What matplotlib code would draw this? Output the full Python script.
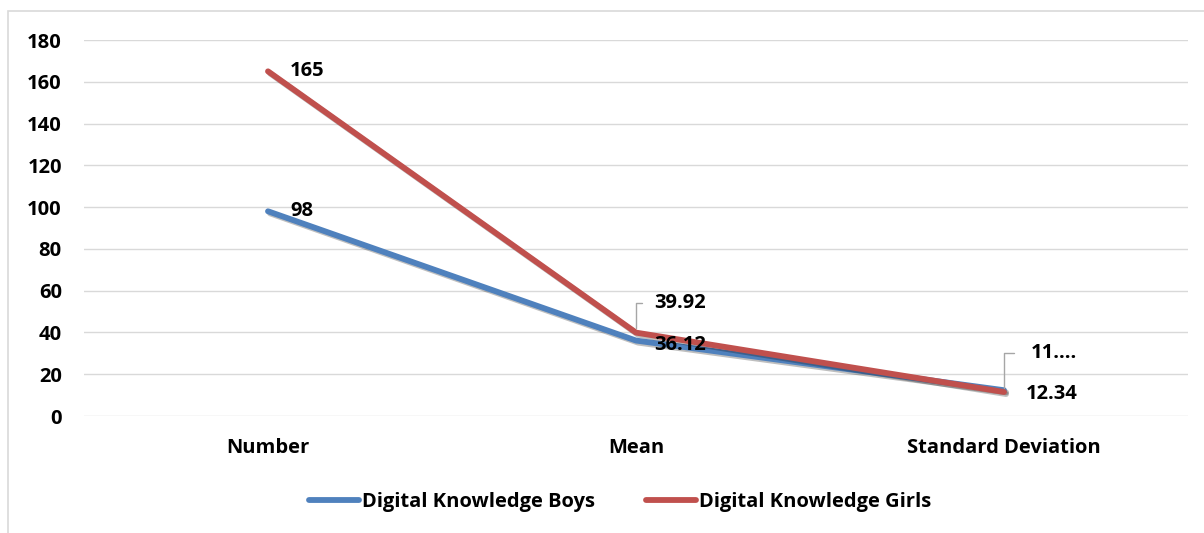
import matplotlib
matplotlib.use("Agg")
import matplotlib.pyplot as plt
import matplotlib.patheffects as pe
from matplotlib.patches import Rectangle

# data
categories = ["Number", "Mean", "Standard Deviation"]
boys = [98, 36.12, 12.34]
girls = [165, 39.92, 11.5]
boys_labels = ["98", "36.12", "12.34"]
girls_labels = ["165", "39.92", "11...."]
y_ticks = [0, 20, 40, 60, 80, 100, 120, 140, 160, 180]

BLUE = "#4F81BD"
RED = "#C0504D"
GRID = "#D9D9D9"
FS = 14.5

plt.rcParams["font.family"] = ["Open Sans", "DejaVu Sans"]
plt.rcParams["font.weight"] = "bold"

fig = plt.figure(figsize=(12.04, 5.33), dpi=100)
# chart area border (left and top edges visible)
fig.patches.append(Rectangle((8 / 1204, -0.01), 1.2, (1 - 11 / 533) + 0.01,
                             transform=fig.transFigure, fill=False,
                             edgecolor="#D9D9D9", linewidth=1.2))
ax = fig.add_axes([84 / 1204, 1 - 416 / 533, (1188 - 84) / 1204, (416 - 40) / 533])

x = list(range(len(categories)))
shadow = [pe.SimpleLineShadow(offset=(1.5, -1.5), alpha=0.25, shadow_color="black"), pe.Normal()]
l1, = ax.plot(x, boys, color=BLUE, lw=4.2, solid_capstyle="round", label="Digital Knowledge Boys",
              path_effects=shadow, zorder=3)
l2, = ax.plot(x, girls, color=RED, lw=4.2, solid_capstyle="round", label="Digital Knowledge Girls",
              path_effects=shadow, zorder=4)

ax.set_xlim(-0.5, len(categories) - 0.5)
ax.set_ylim(0, 180)
ax.set_yticks(y_ticks)
ax.set_xticks(x)
ax.set_xticklabels(categories)
ax.grid(axis="y", color=GRID, lw=1)
ax.set_axisbelow(True)
for s in ax.spines.values():
    s.set_visible(False)
ax.tick_params(axis="y", length=0, pad=16, labelsize=FS)
ax.tick_params(axis="x", length=0, pad=16, labelsize=FS)

lab = dict(fontsize=FS, fontweight="bold", color="black", zorder=6)
lead = dict(arrowstyle="-", color="#A6A6A6", lw=1, shrinkB=3, relpos=(0, 0.5),
            connectionstyle="angle,angleA=180,angleB=90,rad=0")
# Number labels sit right of the point
ax.annotate(girls_labels[0], (0, girls[0]), xytext=(16, 0), textcoords="offset points",
            va="center", ha="left", **lab)
ax.annotate(boys_labels[0], (0, boys[0]), xytext=(16, 0), textcoords="offset points",
            va="center", ha="left", **lab)
# Mean
ax.annotate(girls_labels[1], (1, girls[1]), xytext=(13, 21), textcoords="offset points",
            va="center", ha="left", arrowprops=dict(shrinkA=7, **lead), **lab)
ax.annotate(boys_labels[1], (1, boys[1]), xytext=(13, -3), textcoords="offset points",
            va="center", ha="left", **lab)
# Standard deviation
ax.annotate(girls_labels[2], (2, girls[2]), xytext=(19, 28), textcoords="offset points",
            va="center", ha="left", arrowprops=dict(shrinkA=10, **lead), **lab)
ax.annotate(boys_labels[2], (2, boys[2]), xytext=(16, -3), textcoords="offset points",
            va="center", ha="left", **lab)

h1 = plt.Line2D([], [], color=BLUE, lw=4.2, solid_capstyle="round")
h2 = plt.Line2D([], [], color=RED, lw=4.2, solid_capstyle="round")
leg = ax.legend([h1, h2], [l1.get_label(), l2.get_label()], loc="center",
                bbox_to_anchor=(0.4855, -0.23), ncol=2, frameon=False, fontsize=FS,
                handlelength=2.5, handletextpad=0.15, columnspacing=2.5)
for t in leg.get_texts():
    t.set_fontweight("bold")

fig.savefig("out.png", dpi=100)
